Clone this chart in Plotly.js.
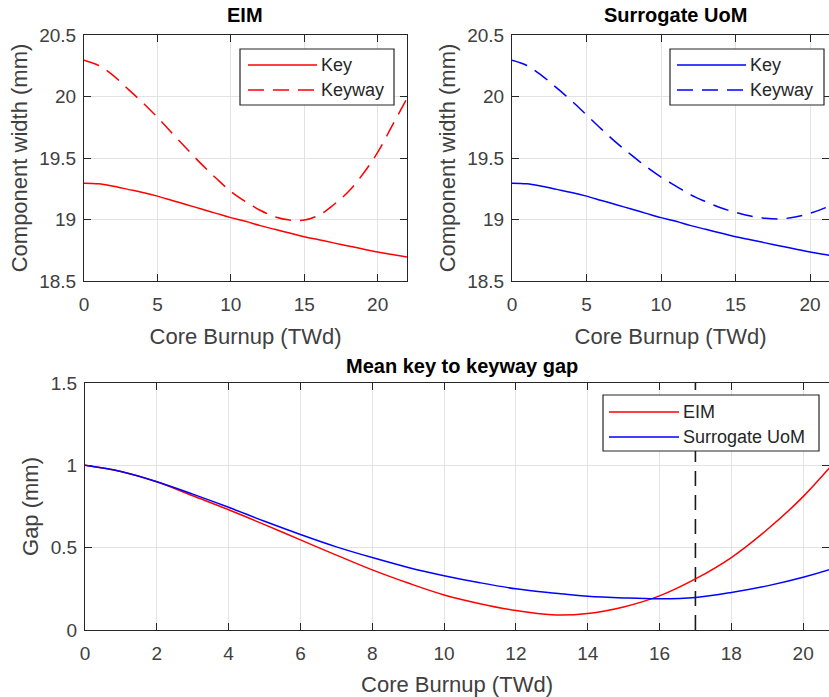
<!DOCTYPE html>
<html><head><meta charset="utf-8">
<script src="https://cdn.plot.ly/plotly-3.0.1.min.js"></script>
<style>html,body{margin:0;padding:0;background:#fff}#chart{width:829px;height:697px}</style>
</head><body><div id="chart"></div>
<script>
// ---- data ----
const burnup = [0,1,2,3,4,5,6,7,8,9,10,11,12,13,14,15,16,17,18,19,20,21,22];
const eimKey = [19.295,19.29,19.27,19.245,19.22,19.19,19.155,19.12,19.085,19.05,19.015,18.985,18.95,18.92,18.89,18.86,18.835,18.81,18.785,18.76,18.735,18.715,18.695];
const eimKeyway = [20.295,20.252,20.17,20.06,19.95,19.83,19.702,19.575,19.45,19.335,19.228,19.145,19.075,19.022,18.996,18.995,19.035,19.12,19.225,19.37,19.545,19.765,19.985];
const uomKey = [19.295,19.29,19.27,19.245,19.22,19.19,19.155,19.12,19.085,19.05,19.015,18.985,18.95,18.92,18.89,18.86,18.835,18.81,18.785,18.76,18.735,18.715,18.695];
const uomKeyway = [20.295,20.252,20.17,20.07,19.965,19.85,19.735,19.625,19.525,19.43,19.345,19.272,19.2,19.145,19.095,19.058,19.028,19.01,19.005,19.02,19.05,19.095,19.155];
const eimGap = [1.0,0.962,0.90,0.815,0.73,0.64,0.547,0.455,0.365,0.285,0.213,0.16,0.118,0.092,0.10,0.14,0.207,0.31,0.44,0.61,0.81,1.05,1.29];
const uomGap = [1.0,0.962,0.90,0.825,0.745,0.66,0.58,0.505,0.44,0.38,0.33,0.287,0.25,0.225,0.205,0.195,0.19,0.198,0.228,0.268,0.32,0.385,0.46];
const limitX = [17, 17];
const limitY = [0, 1.5];

const subplotTitles = ['EIM', 'Surrogate UoM', 'Mean key to keyway gap'];
const xAxisTitle = 'Core Burnup (TWd)';
const yTitleWidth = 'Component width (mm)';
const yTitleGap = 'Gap (mm)';
const widthNames = ['Key', 'Keyway'];
const gapNames = ['EIM', 'Surrogate UoM'];
const xTicksTop = [0,5,10,15,20];
const yTicksTop = [18.5,19,19.5,20,20.5];
const xTicksBottom = [0,2,4,6,8,10,12,14,16,18,20];
const yTicksBottom = [0,0.5,1,1.5];

// ---- styling ----
const W = 829, H = 697;
const RED = 'rgb(255,0,0)', BLUE = 'rgb(0,0,255)';
const DASH = '16px,9px';
const FONT = 'Liberation Sans, Arial, Helvetica, sans-serif';
const AX = '#262626';
const TXT = '#404040';
const px = v => v / W;
const py = v => 1 - v / H;

function axisBase(extra) {
  return Object.assign({
    showline: true, linecolor: AX, linewidth: 1, mirror: 'ticks',
    ticks: 'inside', ticklen: 7, tickcolor: AX, tickwidth: 1,
    showgrid: true, gridcolor: '#e3e3e3', gridwidth: 1,
    zeroline: false, tickfont: {family: FONT, size: 19, color: TXT},
    automargin: false, fixedrange: true
  }, extra);
}

const traces = [
  {x: burnup, y: eimKey, name: widthNames[0], xaxis: 'x', yaxis: 'y', mode: 'lines', line: {color: RED, width: 1.5, shape: 'spline'}},
  {x: burnup, y: eimKeyway, name: widthNames[1], xaxis: 'x', yaxis: 'y', mode: 'lines', line: {color: RED, width: 1.5, dash: DASH, shape: 'spline'}},
  {x: burnup, y: uomKey, name: widthNames[0], xaxis: 'x2', yaxis: 'y2', mode: 'lines', line: {color: BLUE, width: 1.5, shape: 'spline'}},
  {x: burnup, y: uomKeyway, name: widthNames[1], xaxis: 'x2', yaxis: 'y2', mode: 'lines', line: {color: BLUE, width: 1.5, dash: DASH, shape: 'spline'}},
  {x: limitX, y: limitY, xaxis: 'x3', yaxis: 'y3', mode: 'lines', line: {color: '#1a1a1a', width: 1.6, dash: '15px,9px'}},
  {x: burnup, y: eimGap, name: gapNames[0], xaxis: 'x3', yaxis: 'y3', mode: 'lines', line: {color: RED, width: 1.5, shape: 'spline'}},
  {x: burnup, y: uomGap, name: gapNames[1], xaxis: 'x3', yaxis: 'y3', mode: 'lines', line: {color: BLUE, width: 1.5, shape: 'spline'}}
];

const axTitleFont = {family: FONT, size: 22, color: TXT};

const layout = {
  width: W, height: H, showlegend: false,
  margin: {l: 0, r: 0, t: 0, b: 0},
  paper_bgcolor: '#fff', plot_bgcolor: '#fff',
  font: {family: FONT, color: TXT},
  xaxis: axisBase({domain: [px(84), px(407)], range: [0, 22], tickvals: xTicksTop, ticktext: xTicksTop.map(String), anchor: 'y',
    ticklabelstandoff: 6, title: {text: xAxisTitle, font: axTitleFont, standoff: 14}}),
  yaxis: axisBase({domain: [py(281), py(35)], range: [18.5, 20.5], tickvals: yTicksTop, ticktext: yTicksTop.map(String), anchor: 'x',
    ticklabelstandoff: 3, title: {text: yTitleWidth, font: axTitleFont, standoff: 5}}),
  xaxis2: axisBase({domain: [px(512), 1], range: [0, 21.27], tickvals: xTicksTop, ticktext: xTicksTop.map(String), anchor: 'y2',
    ticklabelstandoff: 6, title: {text: xAxisTitle, font: axTitleFont, standoff: 14}}),
  yaxis2: axisBase({domain: [py(281), py(35)], range: [18.5, 20.5], tickvals: yTicksTop, ticktext: yTicksTop.map(String), anchor: 'x2',
    ticklabelstandoff: 3, title: {text: yTitleWidth, font: axTitleFont, standoff: 5}}),
  xaxis3: axisBase({domain: [px(85), 1], range: [0, 20.72], tickvals: xTicksBottom, ticktext: xTicksBottom.map(String), anchor: 'y3',
    ticklabelstandoff: 6, title: {text: xAxisTitle, font: axTitleFont, standoff: 15}}),
  yaxis3: axisBase({domain: [py(630), py(383)], range: [0, 1.5], tickvals: yTicksBottom, ticktext: yTicksBottom.map(String), anchor: 'x3',
    ticklabelstandoff: 3, title: {text: yTitleGap, font: axTitleFont, standoff: 6}}),
  annotations: [],
  shapes: []
};

// subplot titles
[[subplotTitles[0], 245, 15], [subplotTitles[1], 675, 15], [subplotTitles[2], 462, 366]].forEach(([t, x, y]) => {
  layout.annotations.push({text: '<b>' + t + '</b>', xref: 'paper', yref: 'paper', x: px(x), y: py(y),
    xanchor: 'center', yanchor: 'middle', showarrow: false, font: {family: FONT, size: 20, color: '#000'}});
});

// custom MATLAB-style legends
function legendBox(box, rows) {
  layout.shapes.push({type: 'rect', xref: 'paper', yref: 'paper', x0: px(box[0]), x1: px(box[1]), y0: py(box[3]), y1: py(box[2]),
    fillcolor: '#fff', line: {color: AX, width: 1.2}, layer: 'above'});
  rows.forEach(r => {
    layout.shapes.push({type: 'line', xref: 'paper', yref: 'paper', x0: px(r.l0), x1: px(r.l1), y0: py(r.y), y1: py(r.y),
      line: {color: r.color, width: 1.5, dash: r.dash || 'solid'}, layer: 'above'});
    layout.annotations.push({text: r.text, xref: 'paper', yref: 'paper', x: px(r.tx), y: py(r.y), xanchor: 'left', yanchor: 'middle',
      showarrow: false, font: {family: FONT, size: 18, color: '#262626'}});
  });
}
legendBox([240, 394, 49, 105], [
  {l0: 248, l1: 317, y: 65, tx: 319, text: widthNames[0], color: RED},
  {l0: 248, l1: 317, y: 90, tx: 319, text: widthNames[1], color: RED, dash: DASH}
]);
legendBox([670, 824, 49, 105], [
  {l0: 677, l1: 746, y: 65, tx: 748, text: widthNames[0], color: BLUE},
  {l0: 677, l1: 746, y: 90, tx: 748, text: widthNames[1], color: BLUE, dash: DASH}
]);
legendBox([603, 819, 395, 451], [
  {l0: 609, l1: 679, y: 412, tx: 681, text: gapNames[0], color: RED},
  {l0: 609, l1: 679, y: 437, tx: 681, text: gapNames[1], color: BLUE}
]);

Plotly.newPlot('chart', traces, layout, {staticPlot: true, displayModeBar: false});
</script>
</body></html>
